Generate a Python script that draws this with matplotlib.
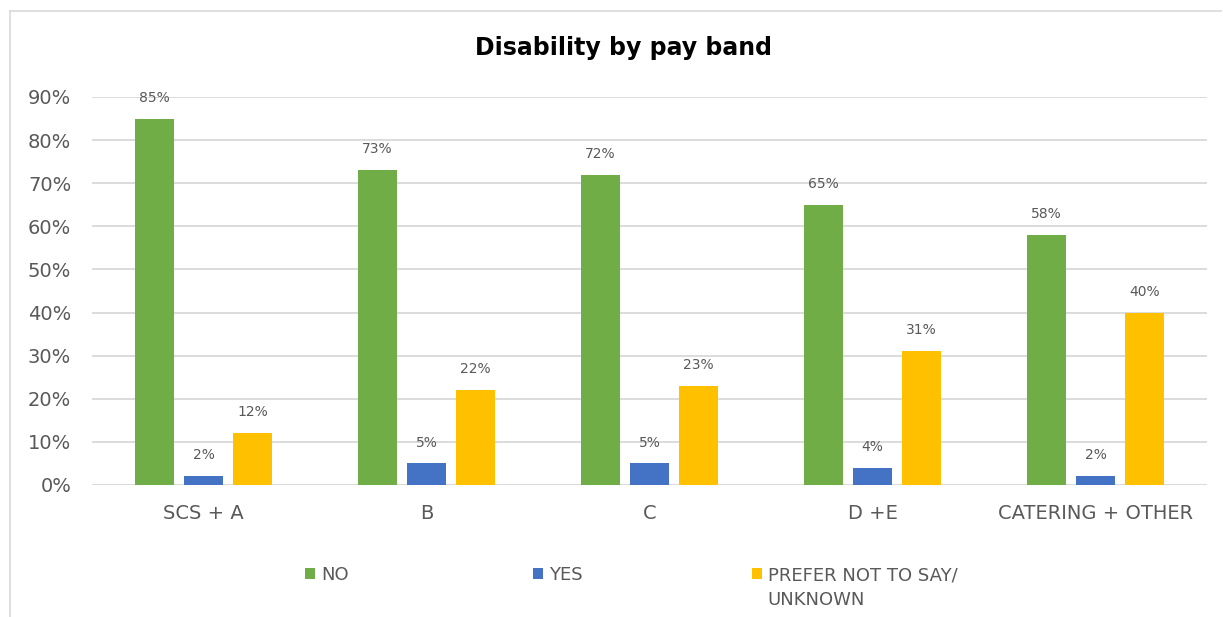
import matplotlib
matplotlib.use("Agg")
import matplotlib.pyplot as plt
from matplotlib.lines import Line2D
from matplotlib.patches import Patch
import numpy as np

categories = ["SCS + A", "B", "C", "D +E", "CATERING + OTHER"]
no_vals = [85, 73, 72, 65, 58]
yes_vals = [2, 5, 5, 4, 2]
prefer_vals = [12, 22, 23, 31, 40]
series_names = ["NO", "YES", "PREFER NOT TO SAY/"]
series_name_cont = "UNKNOWN"
y_ticks = [0, 10, 20, 30, 40, 50, 60, 70, 80, 90]

colors = ["#70AD47", "#4472C4", "#FFC000"]
text_grey = "#595959"
grid_grey = "#D9D9D9"

plt.rcParams["font.family"] = ["DejaVu Sans"]

fig = plt.figure(figsize=(12.23, 6.17), dpi=100)
ax = fig.add_axes([92 / 1223, 1 - 485 / 617, (1207 - 92) / 1223, (485 - 97) / 617])

x = np.arange(len(categories))
width = 0.175
offsets = [-0.22, 0.0, 0.22]
all_series = [no_vals, yes_vals, prefer_vals]

for vals, off, col in zip(all_series, offsets, colors):
    bars = ax.bar(x + off, vals, width=width, color=col, zorder=3)
    for b, v in zip(bars, vals):
        ax.annotate(f"{v:.0f}%", (b.get_x() + b.get_width() / 2, v),
                    xytext=(0, 10), textcoords="offset points",
                    ha="center", va="bottom", fontsize=10, color=text_grey)

ax.set_xlim(-0.5, len(categories) - 0.5)
ax.set_ylim(0, 90)
ax.set_yticks(y_ticks)
ax.set_yticklabels([f"{t}%" for t in y_ticks])
ax.set_xticks(x)
ax.set_xticklabels(categories)
ax.tick_params(axis="y", length=0, pad=15, labelsize=14, labelcolor=text_grey)
ax.tick_params(axis="x", length=0, pad=14, labelsize=14, labelcolor=text_grey)
ax.grid(axis="y", color=grid_grey, linewidth=1.3, zorder=0)
for s in ax.spines.values():
    s.set_visible(False)

fig.text(623 / 1223, 1 - 48 / 617, "Disability by pay band", ha="center", va="center",
         fontsize=17, fontweight="bold", color="black")

# Legend entries placed individually along the bottom
legend_x = [305, 533, 752]
legend_y = 1 - 566 / 617
for name, col, lx in zip(series_names, colors, legend_x):
    fig.legend(handles=[Patch(facecolor=col, edgecolor="none")], labels=[name],
               loc="upper left", bbox_to_anchor=(lx / 1223, legend_y),
               frameon=False, fontsize=13, labelcolor=text_grey,
               handlelength=0.55, handleheight=0.55, handletextpad=0.35,
               borderpad=0, borderaxespad=0)
# wrapped continuation of the last legend label
fig.text(767 / 1223, 1 - 600 / 617, series_name_cont, ha="left", va="center",
         fontsize=13, color=text_grey)

# Chart area outline
fig.add_artist(Line2D([10 / 1223, 10 / 1223], [0, 1 - 11 / 617],
                      transform=fig.transFigure, color=grid_grey, linewidth=1.2))
fig.add_artist(Line2D([10 / 1223, 1221 / 1223], [1 - 11 / 617, 1 - 11 / 617],
                      transform=fig.transFigure, color=grid_grey, linewidth=1.2))

fig.savefig("out.png", dpi=100)
